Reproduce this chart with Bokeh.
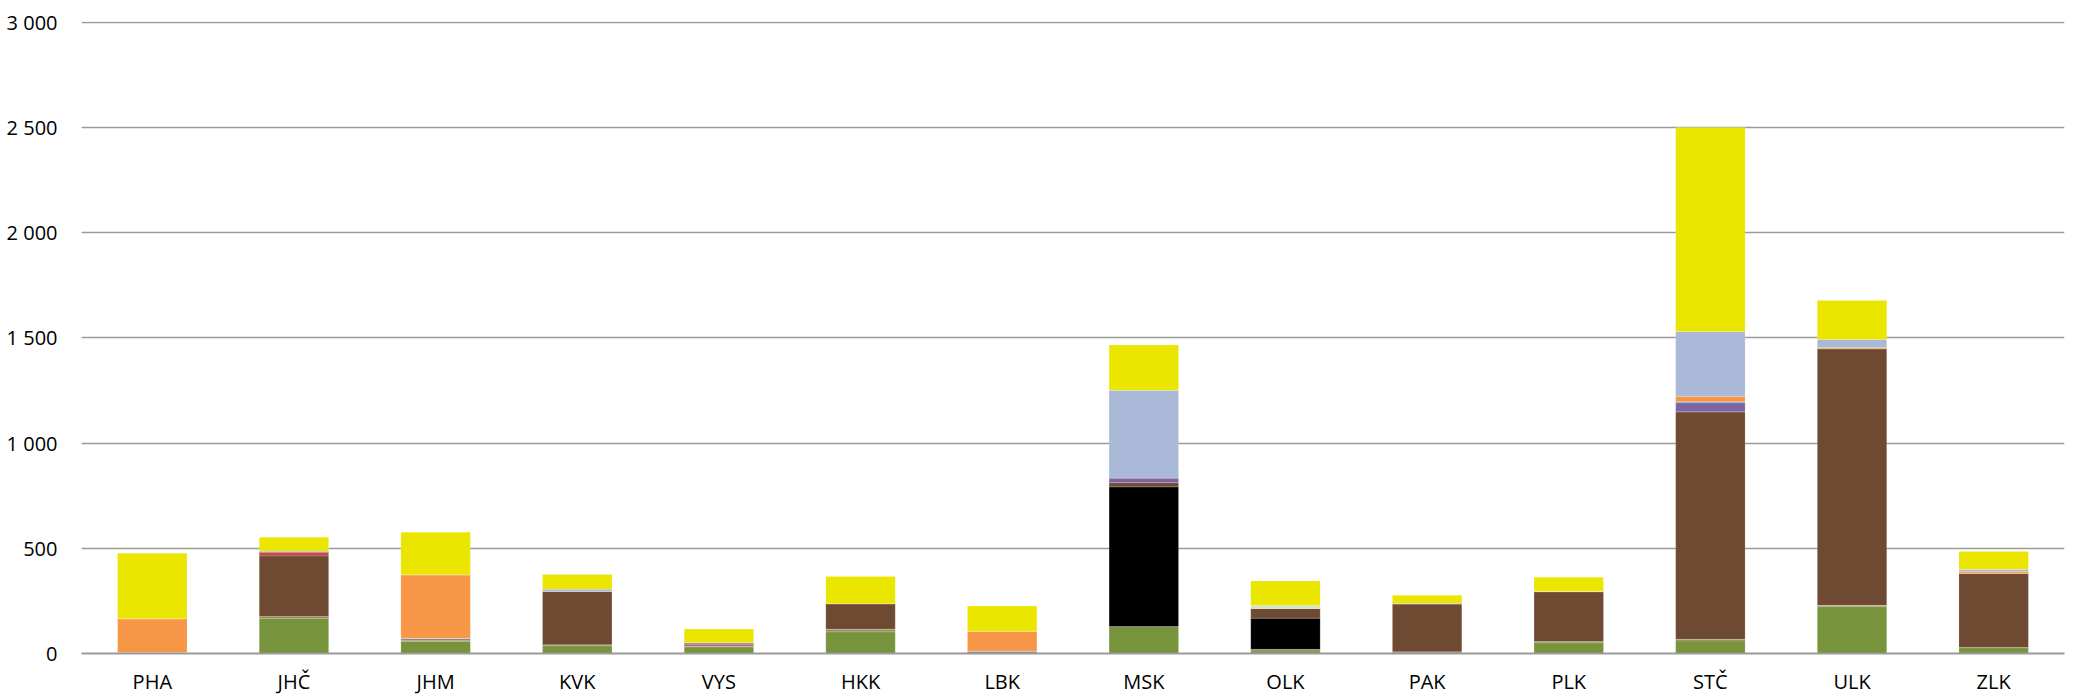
from bokeh.plotting import figure
from bokeh.models import FixedTicker, Range1d
from bokeh.embed import file_html
from bokeh.resources import INLINE

regions = ["PHA", "JHČ", "JHM", "KVK", "VYS", "HKK", "LBK", "MSK", "OLK", "PAK", "PLK", "STČ", "ULK", "ZLK"]

s_green     = [0, 167, 57, 36, 31, 103, 0, 128, 12, 0, 51, 60, 223, 28]
s_khaki     = [0, 9, 6, 5, 5, 13, 0, 0, 8, 8, 6, 8, 6, 0]
s_gray      = [5, 0, 10, 0, 0, 0, 12, 0, 0, 0, 0, 0, 0, 0]
s_black     = [0, 0, 0, 0, 0, 0, 0, 664, 148, 0, 0, 0, 0, 0]
s_brown     = [0, 288, 0, 255, 0, 121, 0, 20, 47, 227, 236, 1081, 1220, 353]
s_red       = [0, 19, 0, 0, 6, 0, 0, 0, 0, 0, 3, 0, 0, 0]
s_purple    = [0, 0, 0, 0, 9, 0, 0, 22, 0, 4, 0, 43, 0, 0]
s_teal      = [0, 0, 0, 0, 0, 0, 0, 0, 0, 0, 0, 5, 0, 0]
s_orange    = [160, 0, 301, 0, 0, 0, 94, 0, 0, 0, 0, 25, 6, 9]
s_lightblue = [0, 4, 0, 10, 0, 0, 0, 417, 0, 0, 0, 308, 37, 10]
s_pale      = [0, 0, 0, 0, 0, 0, 0, 0, 14, 0, 0, 0, 0, 0]
s_yellow    = [311, 65, 202, 69, 65, 129, 120, 215, 116, 38, 66, 970, 186, 85]

tick_values = [0, 500, 1000, 1500, 2000, 2500, 3000]
tick_labels = ["0", "500", "1 000", "1 500", "2 000", "2 500", "3 000"]

series = {
    "green": s_green, "khaki": s_khaki, "gray": s_gray, "black": s_black,
    "brown": s_brown, "red": s_red, "purple": s_purple, "teal": s_teal,
    "orange": s_orange, "lightblue": s_lightblue, "pale": s_pale, "yellow": s_yellow,
}
colors = ["#77933C", "#948A54", "#8C7F85", "#000000", "#6E4A32", "#C0504D",
          "#8064A2", "#4BACC6", "#F79646", "#AAB9D7", "#D7E4BD", "#EAE600"]

data = {"regions": regions}
data.update(series)
keys = list(series.keys())

p = figure(x_range=regions, y_range=Range1d(0, 3004), width=2068, height=697,
           output_backend="svg", toolbar_location=None,
           min_border_left=81, min_border_right=4, min_border_top=21, min_border_bottom=43)

p.vbar_stack(keys, x="regions", width=0.49, source=data, color=colors,
             line_color="white", line_alpha=0.3, line_width=0.5)

p.outline_line_color = None
p.background_fill_color = "white"
p.border_fill_color = "white"

p.xgrid.grid_line_color = None
p.ygrid.grid_line_color = "#9a9a9a"
p.ygrid.grid_line_width = 1.5
p.yaxis.ticker = FixedTicker(ticks=tick_values)
p.yaxis.major_label_overrides = {v: l for v, l in zip(tick_values, tick_labels)}

for ax in (p.xaxis, p.yaxis):
    ax.major_tick_line_color = None
    ax.minor_tick_line_color = None
    ax.major_label_text_font = "Open Sans"
    ax.major_label_text_font_size = "20px"
    ax.major_label_text_color = "#000000"

p.yaxis.axis_line_color = None
p.yaxis.major_label_standoff = 18
p.xaxis.axis_line_color = "#9a9a9a"
p.xaxis.axis_line_width = 2
p.xaxis.major_label_standoff = 8

open("out.html", "w").write(file_html(p, INLINE))
